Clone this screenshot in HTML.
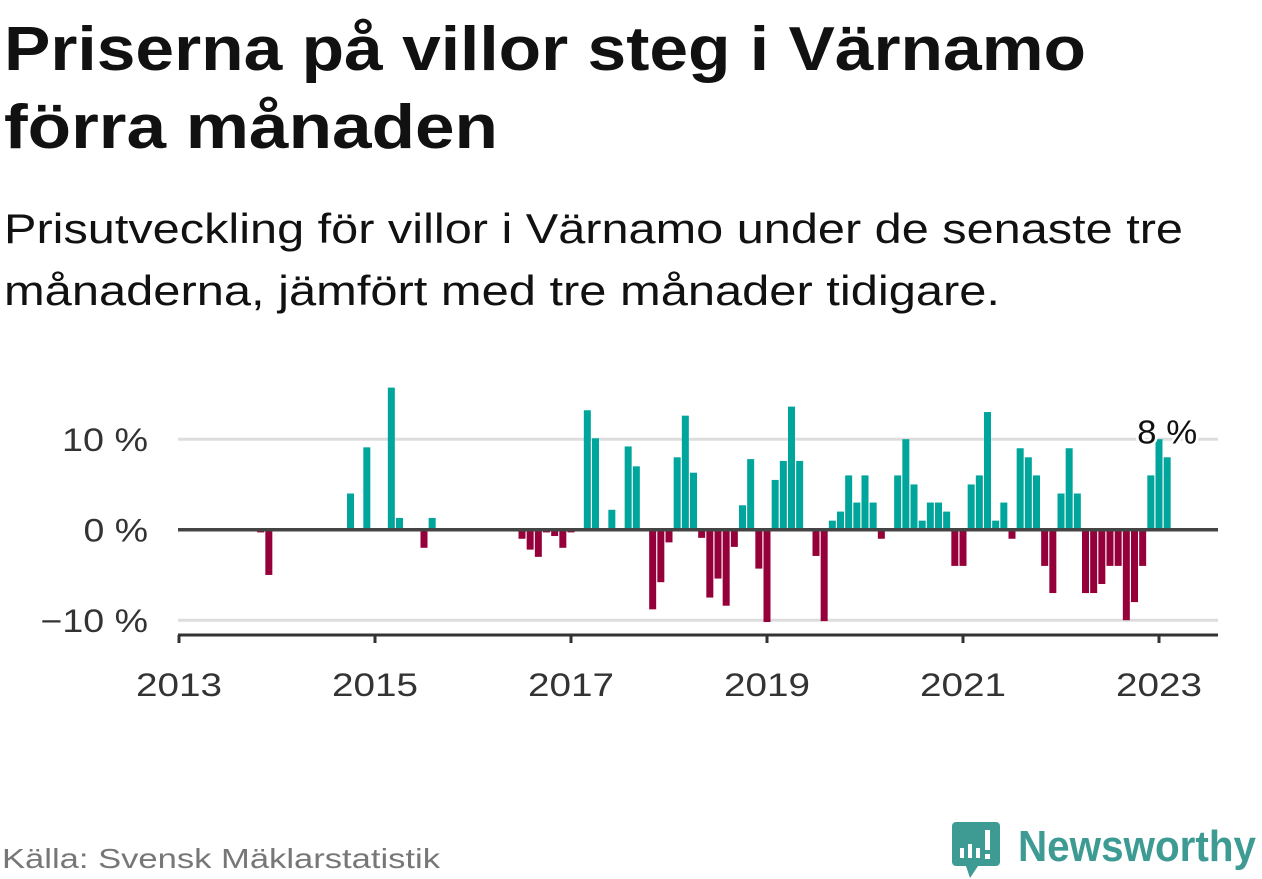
<!DOCTYPE html>
<html><head><meta charset="utf-8"><style>
html,body{margin:0;padding:0;background:#fff;}
svg{display:block;font-family:"Liberation Sans",sans-serif;}
</style></head><body>
<svg id="chart" width="1262" height="879" viewBox="0 0 1262 879" xmlns="http://www.w3.org/2000/svg">
<text x="4" y="70" font-size="62" font-weight="bold" fill="#111" textLength="1082" lengthAdjust="spacingAndGlyphs">Priserna på villor steg i Värnamo</text>
<text x="4" y="148" font-size="62" font-weight="bold" fill="#111" textLength="494" lengthAdjust="spacingAndGlyphs">förra månaden</text>
<text x="4" y="243" font-size="42" fill="#111" textLength="1179" lengthAdjust="spacingAndGlyphs">Prisutveckling för villor i Värnamo under de senaste tre</text>
<text x="4" y="305" font-size="42" fill="#111" textLength="996" lengthAdjust="spacingAndGlyphs">månaderna, jämfört med tre månader tidigare.</text>
<g id="grid"></g>
<g id="bars"></g>
<g id="axes"></g>
<text x="2" y="868" font-size="28" fill="#777" textLength="438" lengthAdjust="spacingAndGlyphs">Källa: Svensk Mäklarstatistik</text>
<g>
<path d="M956 822 h40 a4 4 0 0 1 4 4 v36 a4 4 0 0 1 -4 4 h-18 l-8 12 l-4 -12 h-10 a4 4 0 0 1 -4 -4 v-36 a4 4 0 0 1 4 -4z" fill="#3d9b94"/>
<rect x="960" y="848" width="4" height="10" fill="#fff"/><rect x="968" y="844" width="4" height="14" fill="#fff"/><rect x="976" y="848" width="4" height="10" fill="#fff"/><rect x="985" y="830" width="5" height="20" fill="#fff"/><rect x="985" y="854" width="5" height="5" fill="#fff"/>
<text x="1018" y="861" font-size="44" font-weight="bold" fill="#3d9b94" textLength="238" lengthAdjust="spacingAndGlyphs">Newsworthy</text>
</g>
</svg>
<script>
const startYear = 2013;
const monthIndex = [10,11,21,23,26,27,30,31,42,43,44,45,46,47,48,50,51,53,55,56,58,59,60,61,62,63,64,65,66,67,68,69,70,71,72,73,74,75,76,78,79,80,81,82,83,84,85,86,88,89,90,91,92,93,94,95,96,97,98,99,100,101,102,103,104,105,106,107,108,109,110,111,112,113,114,115,116,117,118,119,120,121];
const values = [-0.3,-5,4,9.1,15.7,1.3,-2,1.3,-1,-2.2,-3,-0.3,-0.7,-2,-0.3,13.2,10.1,2.2,9.2,7,-8.8,-5.8,-1.4,8,12.6,6.3,-0.9,-7.5,-5.4,-8.4,-1.9,2.7,7.8,-4.3,-10.2,5.5,7.6,13.6,7.6,-2.9,-10.1,1,2,6,3,6,3,-1,6,10,5,1,3,3,2,-4,-4,5,6,13,1,3,-1,9,8,6,-4,-7,4,9,4,-7,-7,-6,-4,-4,-10,-8,-4,6,10,8];
const yTicks = [-10,0,10];
const yTickLabels = ["−10 %","0 %","10 %"];
const xTickYears = [2013,2015,2017,2019,2021,2023];
const lastLabel = "8 %";

const NS = "http://www.w3.org/2000/svg";
const x = m => 179 + m * 98 / 12;
const y = v => 529.7 - v * 9.05;
function mk(tag, attrs, parent){const e=document.createElementNS(NS,tag);for(const k in attrs)e.setAttribute(k,attrs[k]);parent.appendChild(e);return e;}
const grid=document.getElementById('grid'), bars=document.getElementById('bars'), axes=document.getElementById('axes');
yTicks.forEach((t,i)=>{
  if(t!==0){
    const l=mk('line',{x1:178,x2:1218,y1:y(t),y2:y(t),stroke:'#dddddd','stroke-width':3},grid);
    
    
  }
  const tx=mk('text',{x:148,y:y(t)+12,'font-size':32,fill:'#333','text-anchor':'end',textLength:yTickLabels[i].length*21.5,lengthAdjust:'spacingAndGlyphs'},axes);
  tx.textContent=yTickLabels[i];
  
  
});
monthIndex.forEach((m,i)=>{
  const v=values[i];
  const y0=y(0), y1=y(v);
  const r=mk('rect',{x:x(m)-3.5,width:7,y:Math.min(y0,y1),height:Math.abs(y1-y0),fill:v>=0?'#00a59b':'#95003a'},bars);
  
  
});
const z=mk('line',{x1:178,x2:1218,y1:y(0),y2:y(0),stroke:'#444','stroke-width':3.5},axes);


const xa=mk('line',{x1:178,x2:1218,y1:635,y2:635,stroke:'#333','stroke-width':3},axes);


xTickYears.forEach(yr=>{
  const px=x((yr-startYear)*12);
  const tk=mk('line',{x1:px,x2:px,y1:635,y2:643,stroke:'#333','stroke-width':3},axes);
  
  
  const tl=mk('text',{x:px,y:696,'font-size':32,fill:'#333','text-anchor':'middle',textLength:86,lengthAdjust:'spacingAndGlyphs'},axes);
  tl.textContent=String(yr);
  
  
});
const li=monthIndex.length-1;
const lab=mk('text',{x:x(monthIndex[li]),y:Math.min(y(values[li]),y(0))-14,'font-size':33,fill:'#111','text-anchor':'middle',stroke:'#fff','stroke-width':5,'paint-order':'stroke',textLength:60,lengthAdjust:'spacingAndGlyphs'},axes);
lab.textContent=lastLabel;


</script>
</body></html>
